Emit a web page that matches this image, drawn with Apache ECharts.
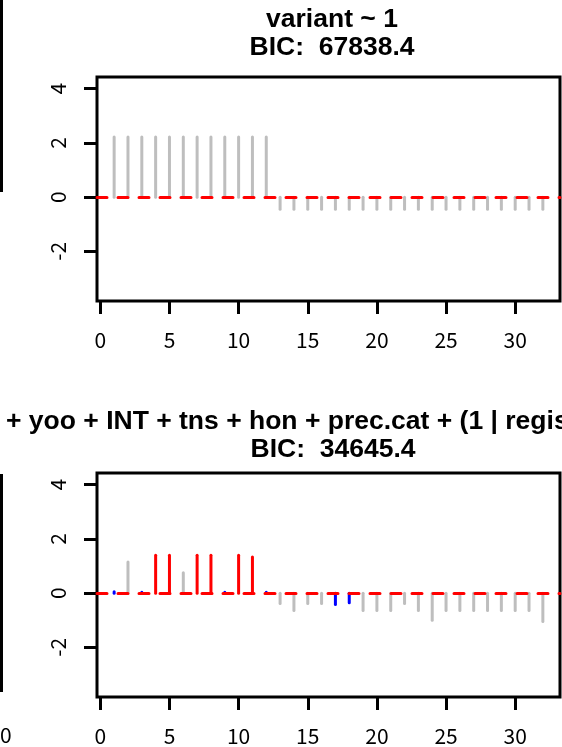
<!DOCTYPE html>
<html>
<head>
<meta charset="utf-8">
<script src="https://cdn.jsdelivr.net/npm/echarts@6/dist/echarts.min.js"></script>
<style>
  html, body { margin: 0; padding: 0; background: #fff; }
  #chart { width: 562px; height: 747px; }
</style>
</head>
<body>
<div id="chart"></div>
<script>
// lag index 1..32
var lags = [1, 2, 3, 4, 5, 6, 7, 8, 9, 10, 11, 12, 13, 14, 15, 16,
            17, 18, 19, 20, 21, 22, 23, 24, 25, 26, 27, 28, 29, 30, 31, 32];

// top panel: variant ~ 1
var topValues = [2.22, 2.22, 2.22, 2.22, 2.22, 2.22, 2.22, 2.22, 2.22, 2.22, 2.22, 2.22,
                 -0.45, -0.45, -0.45, -0.45, -0.45, -0.45, -0.45, -0.45, -0.45, -0.45,
                 -0.45, -0.45, -0.45, -0.45, -0.45, -0.45, -0.45, -0.45, -0.45, -0.45];
var topColors = ['g', 'g', 'g', 'g', 'g', 'g', 'g', 'g', 'g', 'g', 'g', 'g',
                 'g', 'g', 'g', 'g', 'g', 'g', 'g', 'g', 'g', 'g',
                 'g', 'g', 'g', 'g', 'g', 'g', 'g', 'g', 'g', 'g'];

// bottom panel: full model
var bottomValues = [0.05, 1.15, 0.03, 1.4, 1.4, 0.75, 1.4, 1.4, 0.03, 1.4, 1.33, 0.03,
                    -0.38, -0.64, -0.38, -0.38, -0.42, -0.35, -0.64, -0.64, -0.64, -0.38,
                    -0.64, -1.0, -0.64, -0.64, -0.64, -0.64, -0.64, -0.64, -0.64, -1.05];
var bottomColors = ['b', 'g', 'b', 'r', 'r', 'g', 'r', 'r', 'b', 'r', 'r', 'b',
                    'g', 'g', 'g', 'g', 'b', 'b', 'g', 'g', 'g', 'g',
                    'g', 'g', 'g', 'g', 'g', 'g', 'g', 'g', 'g', 'g'];

var xTicks = [0, 5, 10, 15, 20, 25, 30];
var yTicks = [-2, 0, 2, 4];

var colorMap = { g: '#BEBEBE', r: '#FF0000', b: '#0000FF' };
var tickFont = '"Noto Sans CJK JP", "Liberation Sans", sans-serif';
var titleFont = '"Liberation Sans", Arial, sans-serif';

function makeData(values, colors, pick) {
    var out = [];
    for (var i = 0; i < lags.length; i++) {
        if (pick(colors[i])) out.push([lags[i], values[i], colors[i]]);
    }
    return out;
}

function renderSpike(params, api) {
    var p0 = api.coord([api.value(0), 0]);
    var p1 = api.coord([api.value(0), api.value(1)]);
    var c = colorMap[api.value(2)] || colorMap.g;
    return {
        type: 'line',
        shape: { x1: p0[0], y1: p0[1], x2: p1[0], y2: p1[1] },
        style: { stroke: c, lineWidth: 3, lineCap: 'round' }
    };
}

function xAxisFor(idx) {
    return {
        gridIndex: idx, type: 'value', min: -0.24, max: 33.24,
        axisLine: { show: false, onZero: false },
        splitLine: { show: false },
        axisTick: { show: true, customValues: xTicks, length: 13, lineStyle: { color: '#000', width: 3 } },
        axisLabel: { customValues: xTicks, margin: 29, color: '#000', fontSize: 21, fontFamily: tickFont }
    };
}
function yAxisFor(idx) {
    return {
        gridIndex: idx, type: 'value', min: -3.83, max: 4.43,
        axisLine: { show: false, onZero: false },
        splitLine: { show: false },
        axisTick: { show: true, customValues: yTicks, length: 13, lineStyle: { color: '#000', width: 3 } },
        axisLabel: { customValues: yTicks, rotate: 90, margin: 28, color: '#000', fontSize: 21, fontFamily: tickFont }
    };
}

function spikeSeries(idx, values, colors, pick, z) {
    return {
        type: 'custom', xAxisIndex: idx, yAxisIndex: idx, z: z,
        renderItem: renderSpike,
        encode: { x: 0, y: 1 },
        data: makeData(values, colors, pick),
        silent: true
    };
}
function zeroLine(idx) {
    return {
        type: 'line', xAxisIndex: idx, yAxisIndex: idx, z: 2, data: [],
        markLine: {
            silent: true, symbol: 'none', animation: false,
            label: { show: false },
            lineStyle: { color: '#FF0000', width: 3, type: [10, 11], cap: 'round' },
            data: [{ yAxis: 0 }]
        }
    };
}

var titleStyle = { fontFamily: titleFont, fontWeight: 'bold', fontSize: 26.5, lineHeight: 28, color: '#000' };

var chart = echarts.init(document.getElementById('chart'));
var option = {
    animation: false,
    backgroundColor: '#fff',
    title: [
        { text: 'variant ~ 1\nBIC:  67838.4', left: 327, top: 1, textAlign: 'center', textStyle: titleStyle },
        { text: '+ yoo + INT + tns + hon + prec.cat + (1 | register)', left: 1, top: 403, textStyle: titleStyle },
        { text: 'BIC:  34645.4', left: 328, top: 431, textAlign: 'center', textStyle: titleStyle }
    ],
    grid: [
        { left: 97, top: 77, width: 463, height: 224, show: true, borderColor: '#000', borderWidth: 3, backgroundColor: 'transparent' },
        { left: 97, top: 473, width: 463, height: 224, show: true, borderColor: '#000', borderWidth: 3, backgroundColor: 'transparent' }
    ],
    xAxis: [xAxisFor(0), xAxisFor(1)],
    yAxis: [yAxisFor(0), yAxisFor(1)],
    series: [
        spikeSeries(0, topValues, topColors, function (c) { return c === 'g'; }, 1),
        zeroLine(0),
        spikeSeries(0, topValues, topColors, function (c) { return c !== 'g'; }, 3),
        spikeSeries(1, bottomValues, bottomColors, function (c) { return c === 'g'; }, 1),
        zeroLine(1),
        spikeSeries(1, bottomValues, bottomColors, function (c) { return c !== 'g'; }, 3)
    ],
    // edges of the neighbouring panels that fall inside the crop
    graphic: [
        { type: 'line', shape: { x1: 1.5, y1: 0, x2: 1.5, y2: 192 }, style: { stroke: '#000', lineWidth: 3 } },
        { type: 'line', shape: { x1: 1.5, y1: 474, x2: 1.5, y2: 692 }, style: { stroke: '#000', lineWidth: 3 } },
        { type: 'text', left: 0, top: 725, style: { text: '0', fontSize: 21, fontFamily: tickFont, fill: '#000' } }
    ]
};
chart.setOption(option);
window.addEventListener('resize', function () {
    chart.resize();
});
</script>
</body>
</html>
